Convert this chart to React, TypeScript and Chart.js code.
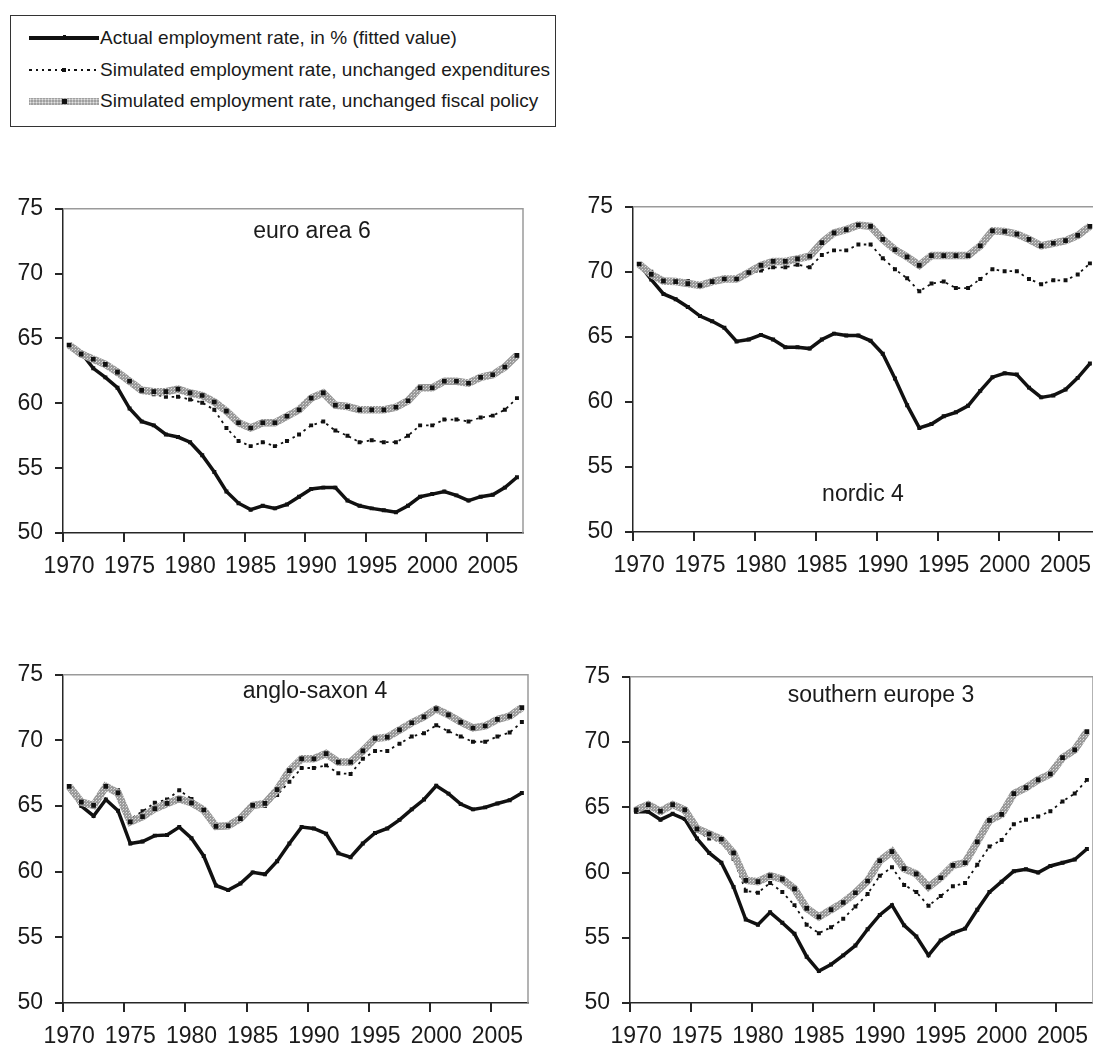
import React, { useEffect, useRef } from 'react';
import { Chart, registerables } from 'chart.js';

Chart.register(...registerables);

// ---------- data ----------
const years = [
  '1970', '1971', '1972', '1973', '1974', '1975', '1976', '1977', '1978', '1979',
  '1980', '1981', '1982', '1983', '1984', '1985', '1986', '1987', '1988', '1989',
  '1990', '1991', '1992', '1993', '1994', '1995', '1996', '1997', '1998', '1999',
  '2000', '2001', '2002', '2003', '2004', '2005', '2006', '2007',
];

const legendLabels = [
  'Actual employment rate, in % (fitted value)',
  'Simulated employment rate, unchanged expenditures',
  'Simulated employment rate, unchanged fiscal policy',
];

const panelTitles = ['euro area 6', 'nordic 4', 'anglo-saxon 4', 'southern europe 3'];

const yTicks = [50, 55, 60, 65, 70, 75];

const euroActual = [64.5, 63.9, 62.7, 62.0, 61.2, 59.6, 58.6, 58.3, 57.6, 57.4, 57.0, 56.0, 54.7, 53.2, 52.3, 51.8, 52.1, 51.9, 52.2, 52.8, 53.4, 53.5, 53.5, 52.5, 52.1, 51.9, 51.75, 51.6, 52.1, 52.8, 53.0, 53.2, 52.9, 52.5, 52.8, 52.95, 53.5, 54.3];
const euroExp = [64.5, 63.8, 63.4, 63.0, 62.3, 61.7, 61.0, 60.7, 60.5, 60.5, 60.3, 60.05, 59.5, 58.1, 57.1, 56.7, 57.0, 56.7, 57.1, 57.6, 58.3, 58.6, 57.9, 57.5, 57.0, 57.15, 57.0, 57.0, 57.5, 58.3, 58.3, 58.75, 58.75, 58.6, 58.9, 59.05, 59.5, 60.4];
const euroFiscal = [64.5, 63.8, 63.4, 63.0, 62.4, 61.7, 61.0, 60.9, 60.9, 61.1, 60.8, 60.6, 60.1, 59.4, 58.5, 58.1, 58.5, 58.5, 59.0, 59.5, 60.4, 60.8, 59.85, 59.75, 59.5, 59.5, 59.5, 59.7, 60.2, 61.2, 61.2, 61.7, 61.7, 61.55, 62.0, 62.2, 62.8, 63.7];

const nordicActual = [70.6, 69.4, 68.3, 67.9, 67.3, 66.6, 66.2, 65.7, 64.65, 64.8, 65.15, 64.8, 64.2, 64.2, 64.1, 64.8, 65.25, 65.1, 65.1, 64.7, 63.7, 61.8, 59.75, 58.0, 58.3, 58.9, 59.2, 59.7, 60.85, 61.9, 62.2, 62.1, 61.1, 60.35, 60.5, 60.95, 61.85, 62.95];
const nordicExp = [70.6, 70.0, 69.35, 69.35, 69.3, 69.05, 69.3, 69.55, 69.5, 69.85, 70.1, 70.35, 70.35, 70.55, 70.35, 71.3, 71.65, 71.65, 72.1, 72.1, 71.05, 70.2, 69.5, 68.5, 69.1, 69.25, 68.75, 68.75, 69.45, 70.2, 70.05, 70.05, 69.45, 69.05, 69.35, 69.35, 69.8, 70.65];
const nordicFiscal = [70.6, 69.8, 69.3, 69.25, 69.1, 68.95, 69.25, 69.45, 69.45, 69.95, 70.5, 70.8, 70.8, 71.0, 71.2, 72.25, 73.0, 73.25, 73.6, 73.5, 72.5, 71.7, 71.15, 70.5, 71.25, 71.25, 71.25, 71.25, 72.0, 73.15, 73.1, 72.9, 72.5, 72.0, 72.2, 72.4, 72.8, 73.5];

const angloActual = [66.5, 65.0, 64.25, 65.5, 64.65, 62.15, 62.3, 62.75, 62.8, 63.4, 62.55, 61.2, 58.95, 58.6, 59.1, 59.95, 59.8, 60.8, 62.15, 63.4, 63.3, 62.9, 61.4, 61.1, 62.15, 62.95, 63.3, 63.95, 64.75, 65.5, 66.55, 65.95, 65.15, 64.75, 64.9, 65.2, 65.45, 66.0];
const angloExp = [66.4, 65.2, 65.0, 66.55, 66.2, 64.0, 64.6, 65.25, 65.5, 66.2, 65.55, 64.75, 63.45, 63.55, 64.0, 65.0, 65.0, 65.85, 66.85, 67.9, 67.9, 68.1, 67.5, 67.45, 68.6, 69.2, 69.2, 69.75, 70.3, 70.55, 71.15, 70.7, 70.3, 69.9, 69.9, 70.3, 70.6, 71.4];
const angloFiscal = [66.5, 65.3, 65.05, 66.5, 66.0, 63.8, 64.2, 64.8, 65.2, 65.55, 65.25, 64.7, 63.45, 63.5, 64.05, 65.05, 65.2, 66.25, 67.7, 68.6, 68.6, 69.0, 68.35, 68.35, 69.2, 70.15, 70.25, 70.8, 71.35, 71.8, 72.4, 71.95, 71.4, 70.95, 71.1, 71.6, 71.85, 72.5];

const southActual = [64.65, 64.65, 64.05, 64.5, 64.1, 62.6, 61.5, 60.75, 58.9, 56.4, 56.0, 56.95, 56.15, 55.3, 53.55, 52.45, 52.95, 53.65, 54.4, 55.65, 56.75, 57.5, 55.95, 55.1, 53.65, 54.8, 55.35, 55.7, 57.15, 58.5, 59.3, 60.1, 60.25, 60.0, 60.5, 60.75, 61.0, 61.8];
const southExp = [64.7, 65.1, 64.6, 65.1, 64.7, 63.2, 62.6, 62.35, 61.05, 58.6, 58.45, 59.2, 58.5, 57.5, 56.0, 55.35, 55.8, 56.45, 57.4, 58.35, 59.75, 60.4, 59.05, 58.5, 57.45, 58.2, 58.95, 59.2, 60.6, 62.0, 62.5, 63.7, 64.05, 64.3, 64.7, 65.45, 66.05, 67.1];
const southFiscal = [64.8, 65.2, 64.7, 65.2, 64.8, 63.35, 62.95, 62.55, 61.5, 59.4, 59.3, 59.75, 59.5, 58.75, 57.25, 56.6, 57.15, 57.7, 58.45, 59.35, 60.9, 61.6, 60.3, 59.9, 58.9, 59.6, 60.55, 60.75, 62.35, 64.0, 64.45, 66.05, 66.5, 67.1, 67.55, 68.8, 69.4, 70.8];

// ---------- layout / style ----------
const FONT = '"Liberation Sans", Arial, Helvetica, sans-serif';
const TICK_SIZE = 23;
const PL = 64; // y axis width
const PT = 16;
const PR = 8;
const XH = 52; // x axis height
const X_TICK_LEN = 9;
const AXIS_COLOR = '#262626';

type Area = { left: number; top: number; right: number; bottom: number };

const panels: { area: Area; title: string; tx: number; ty: number; series: number[][] }[] = [
  { area: { left: 63, top: 199, right: 523, bottom: 533 }, title: panelTitles[0], tx: 312, ty: 218, series: [euroActual, euroExp, euroFiscal] },
  { area: { left: 633, top: 197, right: 1096, bottom: 532 }, title: panelTitles[1], tx: 863, ty: 481, series: [nordicActual, nordicExp, nordicFiscal] },
  { area: { left: 63, top: 665, right: 528, bottom: 1003 }, title: panelTitles[2], tx: 315, ty: 678, series: [angloActual, angloExp, angloFiscal] },
  { area: { left: 630, top: 667, right: 1093, bottom: 1003 }, title: panelTitles[3], tx: 881, ty: 682, series: [southActual, southExp, southFiscal] },
];

let cachedPattern: CanvasPattern | null = null;
function stipple(): CanvasPattern | string {
  if (cachedPattern) return cachedPattern;
  const c = document.createElement('canvas');
  c.width = 3;
  c.height = 3;
  const g = c.getContext('2d');
  if (!g) return '#a8a8a8';
  g.fillStyle = '#9a9a9a';
  g.fillRect(0, 0, 3, 3);
  g.fillStyle = '#e2e2e2';
  g.fillRect(1, 1, 1, 1);
  g.fillStyle = '#c4c4c4';
  g.fillRect(0, 2, 1, 1);
  cachedPattern = g.createPattern(c, 'repeat');
  return cachedPattern || '#a8a8a8';
}

// gray frame on top/right of plot area + category-boundary tick marks every 5 years
const framePlugin = {
  id: 'frame',
  afterDraw(chart: any) {
    const { ctx, chartArea: a } = chart;
    const xs = chart.scales.x;
    const half = (xs.getPixelForValue(1) - xs.getPixelForValue(0)) / 2;
    ctx.save();
    ctx.fillStyle = AXIS_COLOR;
    for (let i = 0; i < years.length; i += 5) {
      const px = Math.round(xs.getPixelForValue(i) - half);
      ctx.fillRect(px - 1, a.bottom, 2, X_TICK_LEN);
    }
    ctx.restore();
  },
  beforeDatasetsDraw(chart: any) {
    const { ctx, chartArea: a } = chart;
    ctx.save();
    ctx.strokeStyle = '#9a9a9a';
    ctx.lineWidth = 1.5;
    ctx.beginPath();
    ctx.moveTo(a.left, a.top);
    ctx.lineTo(a.right, a.top);
    ctx.lineTo(a.right, a.bottom);
    ctx.stroke();
    ctx.restore();
  },
};

function Panel({ area, series }: { area: Area; series: number[][] }) {
  const ref = useRef<HTMLCanvasElement>(null);
  const w = area.right - area.left + PL + PR;
  const h = area.bottom - area.top + PT + XH;
  useEffect(() => {
    if (!ref.current) return;
    const chart = new Chart(ref.current, {
      type: 'line',
      data: {
        labels: years,
        datasets: [
          {
            label: legendLabels[0],
            data: series[0],
            borderColor: '#111',
            borderWidth: 3.5,
            pointStyle: 'rect',
            pointRadius: 2.8,
            pointBackgroundColor: '#111',
            pointBorderWidth: 0,
            order: 2,
          },
          {
            label: legendLabels[1],
            data: series[1],
            borderColor: '#111',
            borderWidth: 1.8,
            borderDash: [2.5, 4],
            pointStyle: 'rect',
            pointRadius: 2.8,
            pointBackgroundColor: '#111',
            pointBorderWidth: 0,
            order: 1,
          },
          {
            label: legendLabels[2],
            data: series[2],
            borderColor: stipple() as any,
            borderWidth: 7.5,
            pointStyle: 'rect',
            pointRadius: 3.3,
            pointBackgroundColor: '#111',
            pointBorderWidth: 0,
            order: 0,
          },
        ],
      },
      options: {
        responsive: false,
        animation: false,
        devicePixelRatio: 1,
        layout: { padding: { left: 0, top: PT, right: PR, bottom: 0 } },
        elements: { line: { tension: 0 } },
        plugins: { legend: { display: false }, tooltip: { enabled: false }, title: { display: false } },
        scales: {
          x: {
            type: 'category',
            offset: true,
            grid: {
              offset: true,
              drawOnChartArea: false,
              drawTicks: true,
              tickLength: X_TICK_LEN,
              color: 'rgba(0,0,0,0)',
            },
            border: { display: true, color: AXIS_COLOR, width: 1.5 },
            ticks: {
              autoSkip: false,
              maxRotation: 0,
              minRotation: 0,
              padding: 11,
              color: '#1a1a1a',
              font: { family: FONT, size: TICK_SIZE },
              callback: (_v: any, i: number) => (i % 5 === 0 ? years[i] : ''),
            },
            afterFit: (s: any) => {
              s.height = XH;
            },
          },
          y: {
            min: 50,
            max: 75,
            afterBuildTicks: (s: any) => {
              s.ticks = yTicks.map((v) => ({ value: v }));
            },
            grid: { drawOnChartArea: false, tickLength: 8, lineWidth: 2, color: AXIS_COLOR },
            border: { display: true, color: AXIS_COLOR, width: 1.5 },
            ticks: {
              padding: 12,
              color: '#1a1a1a',
              font: { family: FONT, size: TICK_SIZE },
            },
            afterFit: (s: any) => {
              s.width = PL;
            },
          },
        },
      },
      plugins: [framePlugin],
    });
    return () => chart.destroy();
  }, []);
  return (
    <canvas
      ref={ref}
      width={w}
      height={h}
      style={{ position: 'absolute', left: area.left - PL, top: area.top - PT, width: w, height: h }}
    />
  );
}

function Swatch({ kind }: { kind: number }) {
  const L = 18;
  const W = 70;
  if (kind === 0) {
    return (
      <div style={{ position: 'absolute', left: L, top: -2, width: W, height: 3.5, background: '#111' }}>
        <div style={{ position: 'absolute', left: W / 2 - 1.5, top: -1, width: 3, height: 3, background: '#111' }} />
      </div>
    );
  }
  if (kind === 1) {
    return (
      <div style={{ position: 'absolute', left: L, top: -1, width: W, height: 2 }}>
        <div
          style={{
            width: '100%',
            height: 2,
            backgroundImage: 'repeating-linear-gradient(90deg, #111 0px, #111 2.5px, transparent 2.5px, transparent 6.5px)',
          }}
        />
        <div style={{ position: 'absolute', left: W / 2 - 2, top: -1, width: 4, height: 4, background: '#111' }} />
      </div>
    );
  }
  return (
    <div
      style={{
        position: 'absolute',
        left: L,
        top: -3.5,
        width: W,
        height: 7,
        backgroundColor: '#a0a0a0',
        backgroundImage: 'radial-gradient(circle, #e4e4e4 0.8px, transparent 1.2px)',
        backgroundSize: '3px 3px',
      }}
    >
      <div style={{ position: 'absolute', left: W / 2 - 2.5, top: 1, width: 5, height: 5, background: '#111' }} />
    </div>
  );
}

function Legend() {
  const rows = [22, 54, 85];
  return (
    <div
      style={{
        position: 'absolute',
        left: 10,
        top: 15,
        width: 546,
        height: 112,
        border: '1px solid #333',
        boxSizing: 'border-box',
        background: '#fff',
        fontFamily: FONT,
        fontSize: 19,
        color: '#1a1a1a',
      }}
    >
      {legendLabels.map((t, i) => (
        <div key={i} style={{ position: 'absolute', left: 0, top: rows[i], width: '100%', height: 0 }}>
          <Swatch kind={i} />
          <div style={{ position: 'absolute', left: 89, top: -12, lineHeight: '24px', whiteSpace: 'nowrap' }}>{t}</div>
        </div>
      ))}
    </div>
  );
}

export default function App() {
  return (
    <div
      style={{
        position: 'absolute',
        left: 0,
        top: 0,
        width: 1093,
        height: 1047,
        overflow: 'hidden',
        background: '#fff',
      }}
    >
      <Legend />
      {panels.map((p, i) => (
        <Panel key={i} area={p.area} series={p.series} />
      ))}
      {panels.map((p, i) => (
        <div
          key={'t' + i}
          style={{
            position: 'absolute',
            left: p.tx,
            top: p.ty,
            transform: 'translateX(-50%)',
            fontFamily: FONT,
            fontSize: TICK_SIZE,
            lineHeight: '24px',
            color: '#1a1a1a',
            whiteSpace: 'nowrap',
          }}
        >
          {p.title}
        </div>
      ))}
    </div>
  );
}
